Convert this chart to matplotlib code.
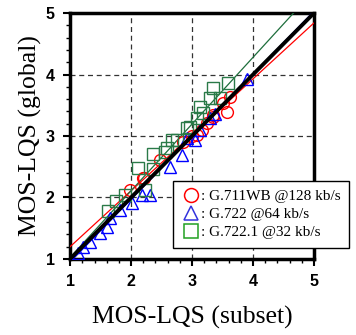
import numpy as np
import matplotlib
matplotlib.use('Agg')
import matplotlib.pyplot as plt
from matplotlib.lines import Line2D

# G.711WB @128 kb/s
g711_x = [1.98, 2.2, 2.21, 2.48, 2.85, 3.0, 3.08, 3.16, 3.25, 3.35, 3.35, 3.51, 3.57, 3.62]
g711_y = [2.12, 2.32, 2.32, 2.61, 2.9, 3.0, 3.02, 3.1, 3.21, 3.34, 3.31, 3.54, 3.39, 3.63]
# G.722 @64 kb/s
g722_x = [1.13, 1.21, 1.33, 1.49, 1.6, 1.66, 1.82, 2.02, 2.18, 2.31, 2.64, 2.84, 2.92, 3.05, 3.13, 3.3, 3.38, 3.9]
g722_y = [1.1, 1.2, 1.28, 1.42, 1.52, 1.67, 1.8, 1.91, 2.04, 2.04, 2.5, 2.69, 2.97, 2.93, 3.1, 3.29, 3.35, 3.93]
# G.722.1 @32 kb/s
g7221_x = [1.62, 1.75, 1.9, 2.11, 2.23, 2.36, 2.36, 2.56, 2.59, 2.67, 2.75, 2.92, 2.97, 3.08, 3.18, 3.13, 3.3, 3.46, 3.34, 3.59]
g7221_y = [1.78, 1.94, 2.04, 2.48, 2.12, 2.71, 2.46, 2.74, 2.8, 2.93, 2.93, 3.13, 3.15, 3.29, 3.37, 3.47, 3.62, 3.62, 3.78, 3.86]

# droites de regression (pente, ordonnee)
fit_711 = (0.91, 0.29)
fit_722 = (1.02, -0.07)
fit_7221 = (1.085, -0.06)

labels = [': G.711WB @128 kb/s', ': G.722 @64 kb/s', ': G.722.1 @32 kb/s']

fig = plt.figure(figsize=(3.56, 3.35), dpi=100)
ax = fig.add_axes([0.197, 0.227, 0.685, 0.734])

xx = np.array([1, 5])
ax.plot(xx, fit_711[0] * xx + fit_711[1], color='red', lw=0.9, zorder=3)
ax.plot(xx, fit_722[0] * xx + fit_722[1], color='blue', lw=0.9, zorder=3)
ax.plot(xx, fit_7221[0] * xx + fit_7221[1], color='#1e6e3c', lw=0.9, zorder=3)

ax.plot(g711_x, g711_y, 'o', mfc='none', mec='red', ms=8.5, mew=1.0, zorder=4)
ax.plot(g722_x, g722_y, '^', mfc='none', mec='blue', ms=8.5, mew=1.0, zorder=4)
ax.plot(g7221_x, g7221_y, 's', mfc='none', mec='#2a7a48', ms=8.5, mew=1.0, zorder=4)

ax.plot(xx, xx, color='black', lw=2.8, zorder=5)

ax.set_xlim(1, 5)
ax.set_ylim(1, 5)
ax.set_xticks([1, 2, 3, 4, 5])
ax.set_yticks([1, 2, 3, 4, 5])
ax.set_xticks(np.arange(1, 5.01, 0.2), minor=True)
ax.set_yticks(np.arange(1, 5.01, 0.2), minor=True)
ax.tick_params(which='major', length=5, width=1.5, direction='out', pad=6)
ax.tick_params(which='minor', length=3, width=1, direction='out')
for t in ax.get_xticklabels() + ax.get_yticklabels():
    t.set_fontfamily('Liberation Sans')
    t.set_fontweight('bold')
    t.set_fontsize(11.5)
ax.grid(True, which='major', linestyle=(0, (4, 3)), color='#333333', lw=0.9)
for s in ax.spines.values():
    s.set_linewidth(2.5)

ax.set_xlabel('MOS-LQS (subset)', family='Liberation Serif', fontsize=18.5, labelpad=12)
ax.set_ylabel('MOS-LQS (global)', family='Liberation Serif', fontsize=18.5, labelpad=3)

handles = [
    Line2D([], [], marker='o', ls='none', mfc='none', mec='red', ms=10, mew=1.1),
    Line2D([], [], marker='^', ls='none', mfc='none', mec='#3333dd', ms=10, mew=1.1),
    Line2D([], [], marker='s', ls='none', mfc='none', mec='#22a022', ms=10, mew=1.1),
]
leg = ax.legend(handles, labels, loc='lower right', bbox_to_anchor=(1.145, 0.045),
                prop={'family': 'Liberation Serif', 'size': 11},
                handletextpad=0.0, handlelength=1.3, labelspacing=0.3,
                borderpad=0.55, borderaxespad=0, fancybox=False, framealpha=1,
                edgecolor='black')
leg.get_frame().set_linewidth(1.0)
leg.set_zorder(10)

fig.savefig('out.png', dpi=100)
